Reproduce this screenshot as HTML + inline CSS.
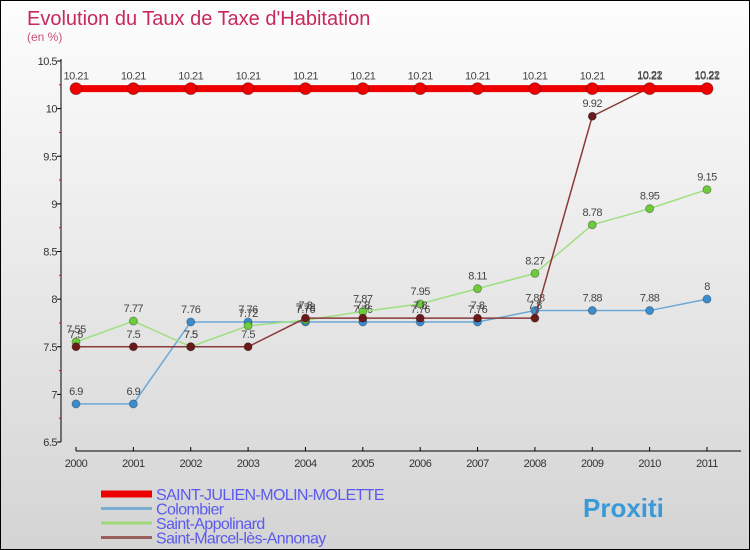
<!DOCTYPE html>
<html><head><meta charset="utf-8"><style>
body{margin:0}
#c{width:750px;height:550px;position:relative;box-sizing:border-box;border:1px solid #000;background:linear-gradient(#fdfdfd,#d4d4d4);font-family:"Liberation Sans",sans-serif;overflow:hidden}
</style></head><body>
<div id="c">
<svg id="s" width="750" height="550" style="position:absolute;left:0;top:0">
<text x="26" y="24" font-size="20" fill="#c8285a">Evolution du Taux de Taxe d'Habitation</text>
<text x="26" y="40" font-size="12" fill="#c8507a">(en %)</text>
</svg>
</div>
<script>
const years=["2000","2001","2002","2003","2004","2005","2006","2007","2008","2009","2010","2011"];
const yTicks=[6.5,7,7.5,8,8.5,9,9.5,10,10.5];
const saintJulien=[10.21,10.21,10.21,10.21,10.21,10.21,10.21,10.21,10.21,10.21,10.21,10.21];
const colombier=[6.9,6.9,7.76,7.76,7.76,7.76,7.76,7.76,7.88,7.88,7.88,8];
const appolinard=[7.55,7.77,7.5,7.72,7.78,7.87,7.95,8.11,8.27,8.78,8.95,9.15];
const marcel=[7.5,7.5,7.5,7.5,7.8,7.8,7.8,7.8,7.8,9.92,10.22,10.22];
const seriesNames=["SAINT-JULIEN-MOLIN-MOLETTE","Colombier","Saint-Appolinard","Saint-Marcel-lès-Annonay"];
const NS="http://www.w3.org/2000/svg",svg=document.getElementById('s');
const xS=i=>75+i*(706-75)/(years.length-1);
const yS=v=>441-(v-6.5)*(441-60)/4;
function el(t,a,txt){const e=document.createElementNS(NS,t);for(const k in a)e.setAttribute(k,a[k]);if(txt!==undefined)e.textContent=txt;svg.appendChild(e);return e;}
// axes
let ax=el('line',{x1:60,y1:58,x2:60,y2:441,stroke:'#000'});


let bx=el('line',{x1:75,y1:450,x2:740,y2:450,stroke:'#000'});


yTicks.forEach(v=>{
 el('line',{x1:56,y1:yS(v),x2:60,y2:yS(v),stroke:'#000'});
 if(v<10.5){el('line',{x1:58,y1:yS(v+0.25),x2:60,y2:yS(v+0.25),stroke:'#e00'});}
 const t=el('text',{x:56,y:yS(v)+4,'font-size':11,fill:'#333','text-anchor':'end','letter-spacing':'-0.5'},String(v));
 
 
});
years.forEach((y,i)=>{
 el('line',{x1:xS(i),y1:446,x2:xS(i),y2:450,stroke:'#000'});
 const t=el('text',{x:xS(i),y:466,'font-size':11,fill:'#333','text-anchor':'middle','letter-spacing':'-0.5'},y);
 
 
});
function series(data,color,dot,w,r,name){
 const pl=el('polyline',{points:data.map((v,i)=>xS(i)+','+yS(v)).join(' '),fill:'none',stroke:color,'stroke-width':w});
 
 
 data.forEach((v,i)=>{
  const c=el('circle',{cx:xS(i),cy:yS(v),r:r,fill:dot,stroke:'rgba(0,0,0,0.3)','stroke-width':1});
  
  
  const t=el('text',{x:xS(i),y:yS(v)-9,'font-size':11,fill:'#444','text-anchor':'middle','letter-spacing':'-0.5'},String(v));
  
  
 });
}
series(colombier,'#6aa8d8','#3a8ed0',1.5,4,'colombier');
series(appolinard,'#9ee080','#6ccc3a',1.5,4,'saint-appolinard');
series(marcel,'#8a3a3a','#6a1a1a',1.5,4,'saint-marcel');
series(saintJulien,'#ee0000','#ee0000',7,6,'saint-julien');
const lc=['#ee0000','#7aaed0','#9ed878','#9a6060'],lw=[7,3,3,3];
seriesNames.forEach((n,i)=>{
 const y=493+i*14.5;
 const l=el('line',{x1:100,y1:y,x2:151,y2:y,stroke:lc[i],'stroke-width':lw[i]});
 
 
 const t=el('text',{x:155,y:y+6,'font-size':16,fill:'#5a5af0','letter-spacing':'-0.6'},n);
 
 
});
const lg=el('text',{x:582,y:516,'font-size':26,'font-weight':'bold',fill:'#3a9ad8'},'Proxiti');


</script>
</body></html>
